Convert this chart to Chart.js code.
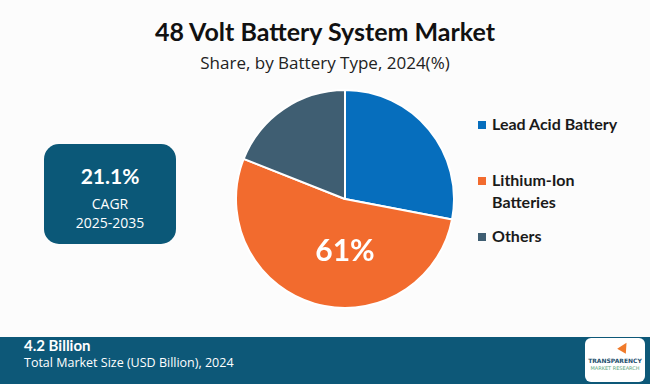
<!DOCTYPE html>
<html>
<head>
<meta charset="utf-8">
<script src="https://cdn.jsdelivr.net/npm/chart.js@4"></script>
<style>
  body { margin: 0; width: 650px; height: 384px; background: #fcfcfc; position: relative; overflow: hidden; font-family: Lato, sans-serif; }
  #title { position: absolute; top: 16px; width: 650px; text-align: center; font: bold 25px Lato, sans-serif; color: #111; }
  #subtitle { position: absolute; top: 51px; width: 650px; text-align: center; font: 17px "Open Sans", sans-serif; color: #222; }
  #cagr { position: absolute; left: 44px; top: 144px; width: 132px; height: 100px; background: #0b5878; border-radius: 15px; color: #fff; text-align: center; }
  #cagr .big { font: bold 21px Lato, sans-serif; margin-top: 19px; }
  #cagr .small { font: 14px "Open Sans", sans-serif; line-height: 19px; margin-top: 6px; }
  #pie { position: absolute; left: 235px; top: 89px; width: 220px; height: 220px; }
  #legend { position: absolute; left: 478px; top: 113px; }
  .item { position: absolute; white-space: nowrap; font: bold 16px Lato, sans-serif; color: #1a1a1a; line-height: 22px; }
  .item span.sw { position: absolute; left: 0; top: 8px; width: 8px; height: 8px; }
  .item div { margin-left: 14px; }
  #band { position: absolute; left: 0; top: 337px; width: 650px; height: 47px; background: #0d5878; color: #fff; }
  #band .v { position: absolute; left: 24px; top: 1px; font: bold 15px Lato, sans-serif; line-height: 15px; }
  #band .t { position: absolute; left: 24px; top: 19px; font: 12.5px "Open Sans", sans-serif; line-height: 13px; }
  #logo { position: absolute; left: 585px; top: 338px; width: 60px; height: 44px; background: #fff; border-radius: 6px; text-align: center; }
  #logo .arr { position: absolute; left: 34px; top: 4px; width: 0; height: 0; border-left: 5px solid transparent; border-right: 5px solid transparent; border-bottom: 10px solid #f07a2a; transform: rotate(30deg); }
  #logo .a { font: bold 6px "DejaVu Sans", sans-serif; color: #1d4f6e; margin-top: 19px; }
  #logo .b { font: 5px "DejaVu Sans", sans-serif; color: #5aa67d; margin-top: 1px; }
</style>
</head>
<body>
<div id="title">48 Volt Battery System Market</div>
<div id="subtitle">Share, by Battery Type, 2024(%)</div>
<div id="cagr"><div class="big">21.1%</div><div class="small">CAGR<br>2025-2035</div></div>
<div id="pie"><canvas id="c"></canvas></div>
<div id="legend"></div>
<div id="band"><div class="v">4.2 Billion</div><div class="t">Total Market Size (USD Billion), 2024</div></div>
<div id="logo"><div class="arr"></div><div class="a">TRANSPARENCY</div><div class="b">MARKET RESEARCH</div></div>
<script>
var categories = ['Lead Acid Battery', 'Lithium-Ion Batteries', 'Others'];
var legendLines = [['Lead Acid Battery'], ['Lithium-Ion', 'Batteries'], ['Others']];
var shares = [28, 53, 19];
var sliceLabels = ['', '61%', ''];
var colors = ['#066ebd', '#f26b2e', '#3f5e72'];

// legend
var legendTops = [0, 56, 112];
var lg = document.getElementById('legend');
categories.forEach(function (c, i) {
    var d = document.createElement('div');
    d.className = 'item';
    d.style.top = legendTops[i] + 'px';
    d.innerHTML = '<span class="sw" style="background:' + colors[i] + '"></span><div>' + legendLines[i].join('<br>') + '</div>';
    lg.appendChild(d);
});

var labelPlugin = {
    id: 'sliceLabels',
    afterDatasetsDraw: function (chart) {
        var ctx = chart.ctx;
        var meta = chart.getDatasetMeta(0);
        meta.data.forEach(function (arc, i) {
            if (!sliceLabels[i]) return;
            ctx.save();
            ctx.fillStyle = '#fff';
            ctx.font = 'bold 30px Lato, sans-serif';
            ctx.textAlign = 'center';
            ctx.textBaseline = 'middle';
            ctx.fillText(sliceLabels[i], arc.x, arc.y + arc.outerRadius * 0.48);
            ctx.restore();
        });
    }
};

var graph = document.getElementById('c').getContext('2d');
var myChart = new Chart(graph, {
    type: 'pie',
    data: {
        labels: categories,
        datasets: [{
            data: shares,
            backgroundColor: colors,
            borderColor: '#ffffff',
            borderWidth: 2
        }]
    },
    options: {
        responsive: true,
        maintainAspectRatio: false,
        animation: false,
        plugins: {
            legend: { display: false },
            tooltip: { enabled: false }
        }
    },
    plugins: [labelPlugin]
});
</script>
</body>
</html>
